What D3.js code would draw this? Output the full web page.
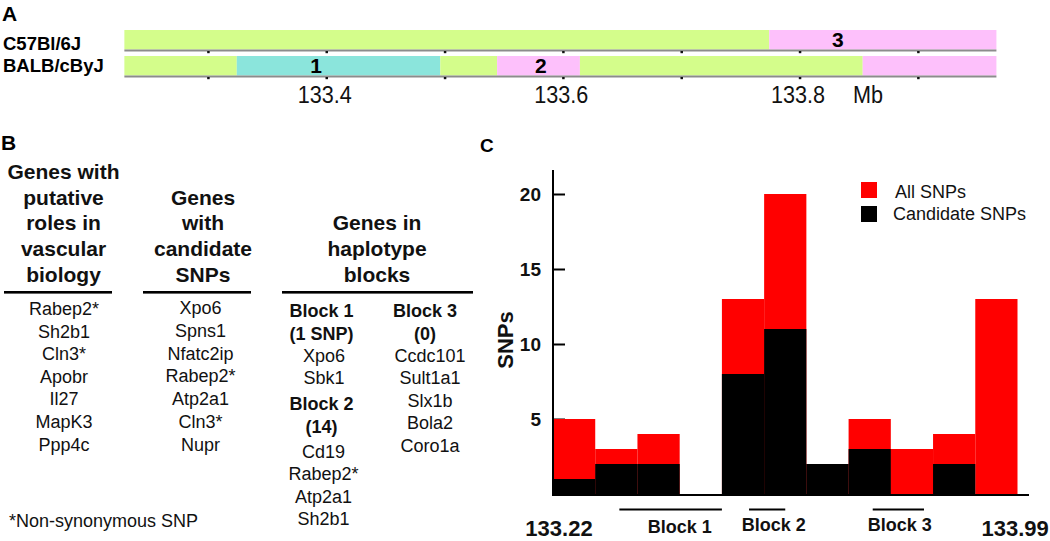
<!DOCTYPE html>
<html>
<head>
<meta charset="utf-8">
<script src="https://cdn.jsdelivr.net/npm/d3@7"></script>
<style>
  html, body { margin: 0; padding: 0; background: #fff; }
  svg { display: block; font-family: "Liberation Sans", Arial, sans-serif; }
</style>
</head>
<body>
<svg id="fig" width="1050" height="541"></svg>
<script>
// ---------------- DATA ----------------
// Panel A: haplotype tracks (Mb)
const trackNames = ["C57Bl/6J", "BALB/cByJ"];
const c57Start = [133.229, 133.774];
const c57End   = [133.774, 133.966];
const c57Type  = ["g", "p"];
const balbStart = [133.229, 133.324, 133.496, 133.544, 133.614, 133.853];
const balbEnd   = [133.324, 133.496, 133.544, 133.614, 133.853, 133.966];
const balbType  = ["g", "c", "g", "p", "g", "p"];
const blockNumbers = ["1", "2", "3"];
const blockLabelMb = [133.391, 133.581, 133.832];
const blockLabelTrack = [1, 1, 0];
const tickLabelsA = [133.4, 133.6, 133.8];
const unitLabelA = "Mb";

// Panel B: gene table
const col1Heading = ["Genes with", "putative", "roles in", "vascular", "biology"];
const col2Heading = ["Genes", "with", "candidate", "SNPs"];
const col3Heading = ["Genes in", "haplotype", "blocks"];
const col1Genes = ["Rabep2*", "Sh2b1", "Cln3*", "Apobr", "Il27", "MapK3", "Ppp4c"];
const col2Genes = ["Xpo6", "Spns1", "Nfatc2ip", "Rabep2*", "Atp2a1", "Cln3*", "Nupr"];
const block1Head = ["Block 1", "(1 SNP)"];
const block1Genes = ["Xpo6", "Sbk1"];
const block2Head = ["Block 2", "(14)"];
const block2Genes = ["Cd19", "Rabep2*", "Atp2a1", "Sh2b1"];
const block3Head = ["Block 3", "(0)"];
const block3Genes = ["Ccdc101", "Sult1a1", "Slx1b", "Bola2", "Coro1a"];
const footnote = "*Non-synonymous SNP";

// Panel C: SNP histogram
const binStart = [133.22, 133.29, 133.36, 133.43, 133.50, 133.57, 133.64, 133.71, 133.78, 133.85, 133.92];
const binEnd   = [133.29, 133.36, 133.43, 133.50, 133.57, 133.64, 133.71, 133.78, 133.85, 133.92, 133.99];
const allSNPs       = [5, 3, 4, 0, 13, 20, 2, 5, 3, 4, 13];
const candidateSNPs = [1, 2, 2, 0, 8, 11, 2, 3, 0, 2, 0];
const yTicksC = [5, 10, 15, 20];
const blockNamesC = ["Block 1", "Block 2", "Block 3"];
const blockStartC = [133.33, 133.545, 133.75];
const blockEndC   = [133.50, 133.605, 133.835];
const blockLabelC = [133.43, 133.586, 133.795];
const axisEndLabels = ["133.22", "133.99"];
const seriesNames = ["All SNPs", "Candidate SNPs"];
const seriesColors = ["#ff0000", "#000000"];

// ---------------- DRAW ----------------
const svg = d3.select("#fig");
const FONT = '"Liberation Sans", Arial, sans-serif';

function panelLabel(t, x, y, size) {
  svg.append("text").attr("x", x).attr("y", y).attr("font-size", size)
    .attr("font-weight", "bold").attr("fill", "#000").text(t);
}
panelLabel("A", 2, 21, 21);
panelLabel("B", 1, 150, 21);
panelLabel("C", 480, 152, 19);

// ----- Panel A -----
const xA = d3.scaleLinear().domain([133.4, 133.8]).range([326.7, 800]);
const typeColor = { g: "#d4fd8b", c: "#8be5dc", p: "#fdc0fb" };
const trackY = [30, 56];
const trackH = 19.5;
const trackLabelY = [50, 71.5];
const tracks = [
  c57Start.map((s, i) => ({ s, e: c57End[i], t: c57Type[i] })),
  balbStart.map((s, i) => ({ s, e: balbEnd[i], t: balbType[i] }))
];
const gA = svg.append("g");
tracks.forEach((segs, ti) => {
  const y0 = trackY[ti];
  gA.selectAll(null).data(segs).enter().append("rect")
    .attr("x", d => xA(d.s)).attr("y", y0)
    .attr("width", d => xA(d.e) - xA(d.s)).attr("height", trackH)
    .attr("fill", d => typeColor[d.t]);
  const dom = [d3.min(segs, d => d.s), d3.max(segs, d => d.e)];
  gA.append("rect").attr("x", xA(dom[0])).attr("y", y0 + trackH)
    .attr("width", xA(dom[1]) - xA(dom[0])).attr("height", 2).attr("fill", "#8c8c8c");
  gA.selectAll(null).data(xA.copy().domain(dom).ticks(8).filter(v => v > dom[0] + 0.01 && v < dom[1] - 0.01))
    .enter().append("rect")
    .attr("x", d => xA(d) - 1.2).attr("y", y0 + trackH + 1.5)
    .attr("width", 2.5).attr("height", 2.2).attr("fill", "#111");
  gA.append("text").attr("x", 3).attr("y", trackLabelY[ti])
    .attr("font-size", 18.5).attr("font-weight", "bold").text(trackNames[ti]);
});
gA.selectAll(null).data(blockNumbers).enter().append("text")
  .attr("x", (d, i) => xA(blockLabelMb[i]))
  .attr("y", (d, i) => trackY[blockLabelTrack[i]] + 16.5)
  .attr("text-anchor", "middle").attr("font-size", 21).attr("font-weight", "bold").text(d => d);
gA.selectAll(null).data(tickLabelsA).enter().append("text")
  .attr("transform", d => `translate(${xA(d) - 2},102.5) scale(0.9,1)`)
  .attr("text-anchor", "middle").attr("font-size", 24).attr("fill", "#111")
  .text(d => d3.format(".1f")(d));
gA.append("text").attr("transform", "translate(853,102.5) scale(0.9,1)")
  .attr("font-size", 24).attr("fill", "#111").text(unitLabelA);

// ----- Panel B -----
const gB = svg.append("g");
function lines(arr, cx, baselines, bold, size) {
  gB.selectAll(null).data(arr).enter().append("text")
    .attr("x", cx).attr("y", (d, i) => baselines[i])
    .attr("text-anchor", "middle").attr("font-size", size)
    .attr("font-weight", bold ? "bold" : "normal").attr("fill", "#111").text(d => d);
}
const headLast = 281.7, headStep = 25.7;
function headBase(arr) { return arr.map((d, i) => headLast - (arr.length - 1 - i) * headStep); }
lines(col1Heading, 63.5, headBase(col1Heading), true, 21);
lines(col2Heading, 203, headBase(col2Heading), true, 21);
lines(col3Heading, 377, headBase(col3Heading), true, 21);
const underlines = [[4, 112], [143, 251], [282, 473]];
gB.selectAll(null).data(underlines).enter().append("rect")
  .attr("x", d => d[0]).attr("y", 291).attr("width", d => d[1] - d[0]).attr("height", 2.6).attr("fill", "#000");
lines(col1Genes, 64, col1Genes.map((d, i) => 315 + i * 22.6), false, 18);
lines(col2Genes, 200.5, col2Genes.map((d, i) => 314 + i * 22.8), false, 18);
const col3aBase = [317.3, 340, 361.7, 384, 410, 432.7, 457.7, 480, 503, 525];
lines(block1Head, 321.5, col3aBase.slice(0, 2), true, 18);
lines(block1Genes, 324, col3aBase.slice(2, 4), false, 18);
lines(block2Head, 321.5, col3aBase.slice(4, 6), true, 18);
lines(block2Genes, 323.5, col3aBase.slice(6, 10), false, 18);
const col3bBase = [317.3, 340, 361.7, 384, 406.7, 429.3, 451.7];
lines(block3Head, 425, col3bBase.slice(0, 2), true, 18);
lines(block3Genes, 430, col3bBase.slice(2, 7), false, 18);
gB.append("text").attr("x", 9).attr("y", 526.5).attr("font-size", 18).attr("fill", "#111").text(footnote);

// ----- Panel C -----
const xC = d3.scaleLinear().domain([133.22, 133.99]).range([553, 1017.5]);
const yC = d3.scaleLinear().domain([0, 20]).range([494, 194]);
const gC = svg.append("g");
const bins = binStart.map((s, i) => ({ s, e: binEnd[i], all: allSNPs[i], cand: candidateSNPs[i] }));

const yAxis = d3.axisLeft(yC).tickValues(yTicksC).tickSizeInner(-12).tickSizeOuter(0).tickPadding(12);
const ya = gC.append("g").attr("transform", "translate(553,0)").call(yAxis);
ya.select(".domain").remove();
ya.selectAll(".tick line").attr("stroke", "#000").attr("stroke-width", 2);
ya.selectAll(".tick text").attr("font-size", 19).attr("font-weight", "bold")
  .attr("font-family", FONT).attr("fill", "#111").attr("dy", "0.36em");

gC.selectAll(null).data(bins).enter().append("rect")
  .attr("x", d => xC(d.s)).attr("width", d => xC(d.e) - xC(d.s))
  .attr("y", d => yC(d.all)).attr("height", d => yC(0) - yC(d.all))
  .attr("fill", seriesColors[0]);
gC.selectAll(null).data(bins).enter().append("rect")
  .attr("x", d => xC(d.s)).attr("width", d => xC(d.e) - xC(d.s))
  .attr("y", d => yC(d.cand)).attr("height", d => yC(0) - yC(d.cand))
  .attr("fill", seriesColors[1]);

gC.append("line").attr("x1", 553).attr("x2", 553).attr("y1", 170).attr("y2", 496)
  .attr("stroke", "#000").attr("stroke-width", 2);
gC.append("line").attr("x1", 552).attr("x2", 1029).attr("y1", 495).attr("y2", 495)
  .attr("stroke", "#000").attr("stroke-width", 2);

gC.append("text").attr("transform", "translate(513,340) rotate(-90)")
  .attr("text-anchor", "middle").attr("font-size", 22).attr("font-weight", "bold").attr("fill", "#111").text("SNPs");

gC.selectAll(null).data(blockNamesC).enter().append("line")
  .attr("x1", (d, i) => xC(blockStartC[i])).attr("x2", (d, i) => xC(blockEndC[i]))
  .attr("y1", 509.5).attr("y2", 509.5).attr("stroke", "#000").attr("stroke-width", 2);
gC.selectAll(null).data(blockNamesC).enter().append("text")
  .attr("x", (d, i) => xC(blockLabelC[i])).attr("y", (d, i) => i === 0 ? 533 : 531)
  .attr("text-anchor", "middle").attr("font-size", 18).attr("font-weight", "bold").attr("fill", "#111").text(d => d);

gC.append("text").attr("x", xC(+axisEndLabels[0]) + 6).attr("y", 536).attr("text-anchor", "middle")
  .attr("font-size", 22).attr("font-weight", "bold").attr("fill", "#111").text(axisEndLabels[0]);
gC.append("text").attr("x", xC(+axisEndLabels[1]) - 36).attr("y", 536).attr("text-anchor", "start")
  .attr("font-size", 22).attr("font-weight", "bold").attr("fill", "#111").text(axisEndLabels[1]);

// legend
const legY = [182, 206];
const legTextY = [198, 220];
const legTextX = [895, 893];
gC.selectAll(null).data(seriesNames).enter().append("rect")
  .attr("x", 861).attr("y", (d, i) => legY[i]).attr("width", 16).attr("height", 16)
  .attr("fill", (d, i) => seriesColors[i]);
gC.selectAll(null).data(seriesNames).enter().append("text")
  .attr("x", (d, i) => legTextX[i]).attr("y", (d, i) => legTextY[i])
  .attr("font-size", 18).attr("fill", "#111").text(d => d);
</script>
</body>
</html>
